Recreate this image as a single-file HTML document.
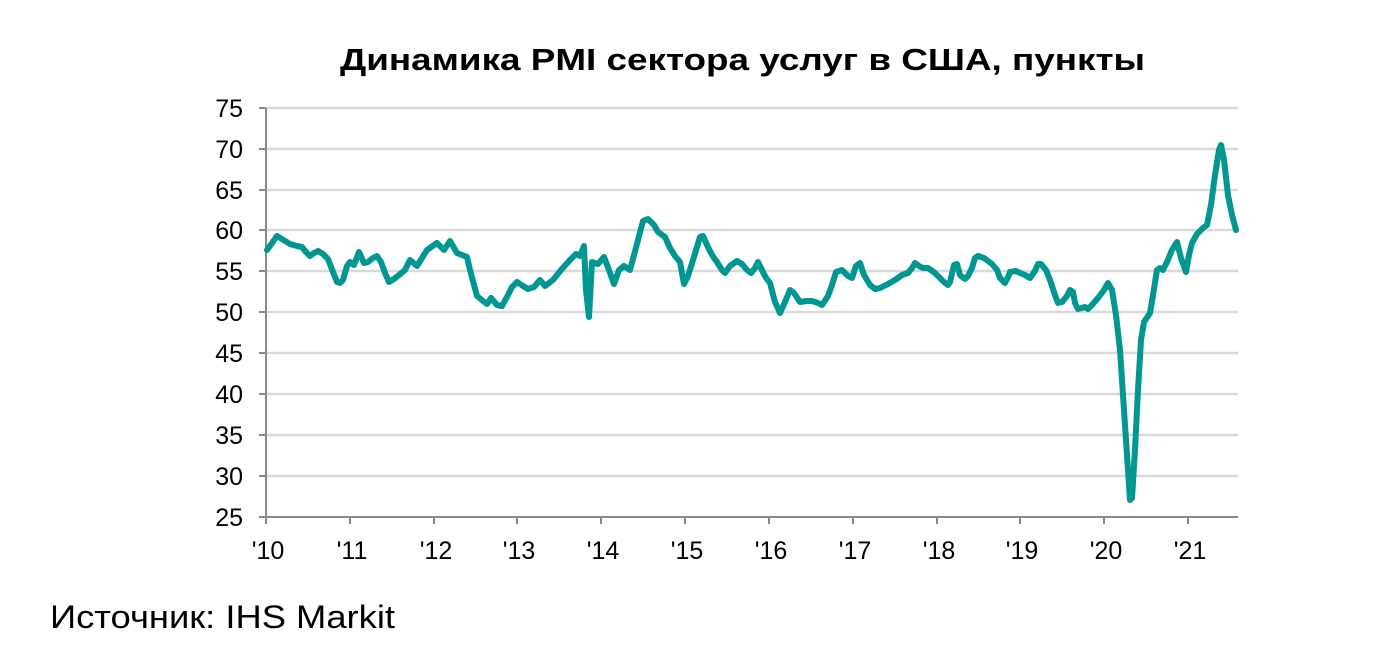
<!DOCTYPE html>
<html><head><meta charset="utf-8"><style>
body{margin:0;background:#fff;}
svg{display:block;font-family:"Liberation Sans",sans-serif;}
</style></head><body>
<svg width="1392" height="664" viewBox="0 0 1392 664">
<text x="340" y="70" font-size="31" font-weight="bold" fill="#000" textLength="805" lengthAdjust="spacingAndGlyphs">Динамика PMI сектора услуг в США, пункты</text>
<g stroke="#d9d9d9" stroke-width="2.5">
<line x1="266" x2="1238" y1="108" y2="108"/><line x1="266" x2="1238" y1="149" y2="149"/><line x1="266" x2="1238" y1="190" y2="190"/><line x1="266" x2="1238" y1="230" y2="230"/><line x1="266" x2="1238" y1="271" y2="271"/><line x1="266" x2="1238" y1="312" y2="312"/><line x1="266" x2="1238" y1="353" y2="353"/><line x1="266" x2="1238" y1="394" y2="394"/><line x1="266" x2="1238" y1="435" y2="435"/><line x1="266" x2="1238" y1="476" y2="476"/>
</g>
<g stroke="#888" stroke-width="2">
<line x1="266" y1="108" x2="266" y2="517"/>
<line x1="266" y1="517" x2="1238" y2="517"/>
<line x1="259" x2="266" y1="108" y2="108"/><line x1="259" x2="266" y1="149" y2="149"/><line x1="259" x2="266" y1="190" y2="190"/><line x1="259" x2="266" y1="230" y2="230"/><line x1="259" x2="266" y1="271" y2="271"/><line x1="259" x2="266" y1="312" y2="312"/><line x1="259" x2="266" y1="353" y2="353"/><line x1="259" x2="266" y1="394" y2="394"/><line x1="259" x2="266" y1="435" y2="435"/><line x1="259" x2="266" y1="476" y2="476"/><line x1="259" x2="266" y1="517" y2="517"/>
<line x1="266" x2="266" y1="517" y2="524"/><line x1="350" x2="350" y1="517" y2="524"/><line x1="434" x2="434" y1="517" y2="524"/><line x1="517" x2="517" y1="517" y2="524"/><line x1="601" x2="601" y1="517" y2="524"/><line x1="685" x2="685" y1="517" y2="524"/><line x1="769" x2="769" y1="517" y2="524"/><line x1="853" x2="853" y1="517" y2="524"/><line x1="937" x2="937" y1="517" y2="524"/><line x1="1020" x2="1020" y1="517" y2="524"/><line x1="1104" x2="1104" y1="517" y2="524"/><line x1="1188" x2="1188" y1="517" y2="524"/>
</g>
<g font-size="25" fill="#000" text-anchor="end">
<text x="243" y="117">75</text><text x="243" y="158">70</text><text x="243" y="199">65</text><text x="243" y="239">60</text><text x="243" y="280">55</text><text x="243" y="321">50</text><text x="243" y="362">45</text><text x="243" y="403">40</text><text x="243" y="444">35</text><text x="243" y="485">30</text><text x="243" y="526">25</text>
</g>
<g font-size="25" fill="#000" text-anchor="middle">
<text x="268" y="559">'10</text><text x="352" y="559">'11</text><text x="436" y="559">'12</text><text x="519" y="559">'13</text><text x="603" y="559">'14</text><text x="687" y="559">'15</text><text x="771" y="559">'16</text><text x="855" y="559">'17</text><text x="939" y="559">'18</text><text x="1022" y="559">'19</text><text x="1106" y="559">'20</text><text x="1190" y="559">'21</text>
</g>
<polyline fill="none" stroke="#009691" stroke-width="6" stroke-linejoin="round" stroke-linecap="round" points="267,250 277,236 290,244 297,246 302,247 306,252 310,256 314,253 318,251 323,254 328,259 333,272 337,282 340,283 343,280 347,266 350,262 354,265 359,252 364,263 368,262 373,258 377,256 381,262 385,273 389,282 394,279 399,275 405,270 410,260 417,266 427,250 437,243 444,250 450,241 457,253 462,255 467,257 470,270 477,296 483,301 487,304 491,298 497,305 502,306 508,295 512,287 517,282 523,286 528,289 534,287 540,280 545,286 553,280 561,270 570,260 576,254 580,256 584,246 586,290 589,317 592,262 598,264 604,257 609,270 614,284 619,270 624,266 630,270 638,240 643,221 648,219 654,225 658,232 665,237 670,248 675,256 680,262 684,284 688,276 693,260 700,237 703,236 707,245 712,255 717,262 722,270 725,273 730,266 737,261 742,264 747,270 751,273 755,268 758,262 762,270 766,278 770,283 775,302 780,313 785,302 790,290 794,293 800,302 806,301 812,301 818,303 822,305 828,296 832,285 836,272 842,270 848,276 852,278 856,266 860,263 864,275 870,285 875,289 880,288 888,284 895,280 902,275 908,273 912,268 915,263 919,266 923,268 928,268 935,273 940,278 945,283 948,285 950,282 954,265 957,264 960,275 965,279 968,276 972,268 975,258 978,256 984,258 992,264 997,270 1000,278 1005,283 1008,277 1010,272 1016,271 1020,273 1025,275 1030,278 1035,271 1038,264 1041,264 1046,270 1050,280 1055,295 1058,303 1062,302 1067,296 1070,290 1073,292 1075,303 1078,309 1082,308 1085,307 1088,309 1092,305 1098,298 1104,290 1108,283 1112,290 1116,315 1120,350 1124,410 1128,470 1130,500 1132,498 1135,450 1138,390 1141,340 1144,322 1150,313 1153,295 1157,270 1160,268 1163,270 1167,262 1172,250 1177,242 1181,258 1186,272 1189,255 1192,243 1197,234 1203,228 1207,225 1211,205 1215,175 1219,150 1221,145 1224,160 1228,195 1232,215 1236,230"/>
<text x="50" y="628" font-size="32" fill="#000" textLength="345" lengthAdjust="spacingAndGlyphs">Источник: IHS Markit</text>
</svg>
</body></html>
